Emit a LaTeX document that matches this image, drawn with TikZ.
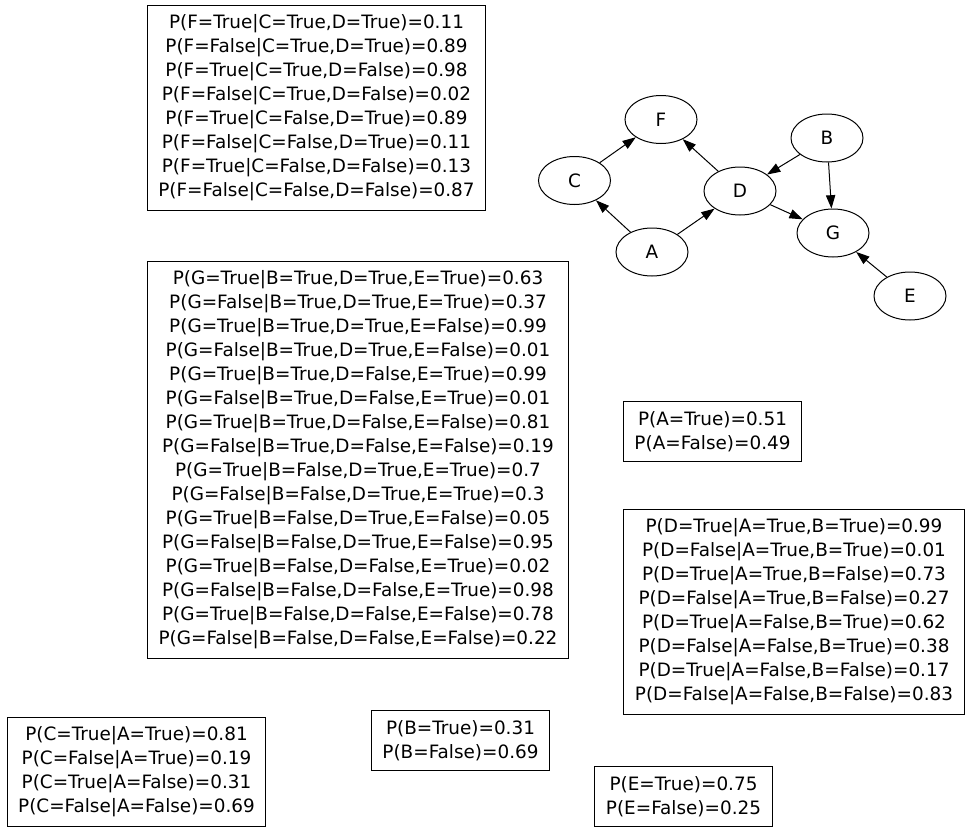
\documentclass[tikz,border=0pt]{standalone}
\usepackage{fontspec}
\setmainfont{DejaVu Sans}
\usetikzlibrary{arrows.meta,shapes.geometric}

\tikzset{
  var/.style={draw,ellipse,line width=0.75pt,minimum width=54pt,minimum height=36pt,inner sep=0pt},
  cpt/.style={draw,line width=0.75pt,align=center,inner xsep=8.25pt,inner ysep=7.25pt},
  dep/.style={line width=0.75pt,-{Triangle[length=10pt,width=7pt]}}
}

\begin{document}
\fontsize{13.8}{18}\selectfont
\begin{tikzpicture}[x=0.75pt,y=-0.75pt]
    \useasboundingbox (0,0) rectangle (972,832);
    % the network
    \node[var] (F) at (661,119.5) {F};
    \node[var] (C) at (574.5,180.5) {C};
    \node[var] (D) at (740,191) {D};
    \node[var] (B) at (827,138) {B};
    \node[var] (G) at (833,233) {G};
    \node[var] (A) at (652,252) {A};
    \node[var] (E) at (910,296) {E};
    \draw[dep] (A) -- (C);
    \draw[dep] (A) -- (D);
    \draw[dep] (C) -- (F);
    \draw[dep] (D) -- (F);
    \draw[dep] (B) -- (D);
    \draw[dep] (B) -- (G);
    \draw[dep] (D) -- (G);
    \draw[dep] (E) -- (G);
    % the tables
    \node[cpt] (cptF) at (316.5,108) {P(F=True|C=True,D=True)=0.11\\P(F=False|C=True,D=True)=0.89\\P(F=True|C=True,D=False)=0.98\\P(F=False|C=True,D=False)=0.02\\P(F=True|C=False,D=True)=0.89\\P(F=False|C=False,D=True)=0.11\\P(F=True|C=False,D=False)=0.13\\P(F=False|C=False,D=False)=0.87};
    \node[cpt] (cptG) at (358,460) {P(G=True|B=True,D=True,E=True)=0.63\\P(G=False|B=True,D=True,E=True)=0.37\\P(G=True|B=True,D=True,E=False)=0.99\\P(G=False|B=True,D=True,E=False)=0.01\\P(G=True|B=True,D=False,E=True)=0.99\\P(G=False|B=True,D=False,E=True)=0.01\\P(G=True|B=True,D=False,E=False)=0.81\\P(G=False|B=True,D=False,E=False)=0.19\\P(G=True|B=False,D=True,E=True)=0.7\\P(G=False|B=False,D=True,E=True)=0.3\\P(G=True|B=False,D=True,E=False)=0.05\\P(G=False|B=False,D=True,E=False)=0.95\\P(G=True|B=False,D=False,E=True)=0.02\\P(G=False|B=False,D=False,E=True)=0.98\\P(G=True|B=False,D=False,E=False)=0.78\\P(G=False|B=False,D=False,E=False)=0.22};
    \node[cpt] (cptA) at (712.5,431.5) {P(A=True)=0.51\\P(A=False)=0.49};
    \node[cpt] (cptD) at (794,612) {P(D=True|A=True,B=True)=0.99\\P(D=False|A=True,B=True)=0.01\\P(D=True|A=True,B=False)=0.73\\P(D=False|A=True,B=False)=0.27\\P(D=True|A=False,B=True)=0.62\\P(D=False|A=False,B=True)=0.38\\P(D=True|A=False,B=False)=0.17\\P(D=False|A=False,B=False)=0.83};
    \node[cpt] (cptC) at (136.5,772) {P(C=True|A=True)=0.81\\P(C=False|A=True)=0.19\\P(C=True|A=False)=0.31\\P(C=False|A=False)=0.69};
    \node[cpt] (cptB) at (460.5,740.5) {P(B=True)=0.31\\P(B=False)=0.69};
    \node[cpt] (cptE) at (683.5,796.5) {P(E=True)=0.75\\P(E=False)=0.25};
\end{tikzpicture}
\end{document}
